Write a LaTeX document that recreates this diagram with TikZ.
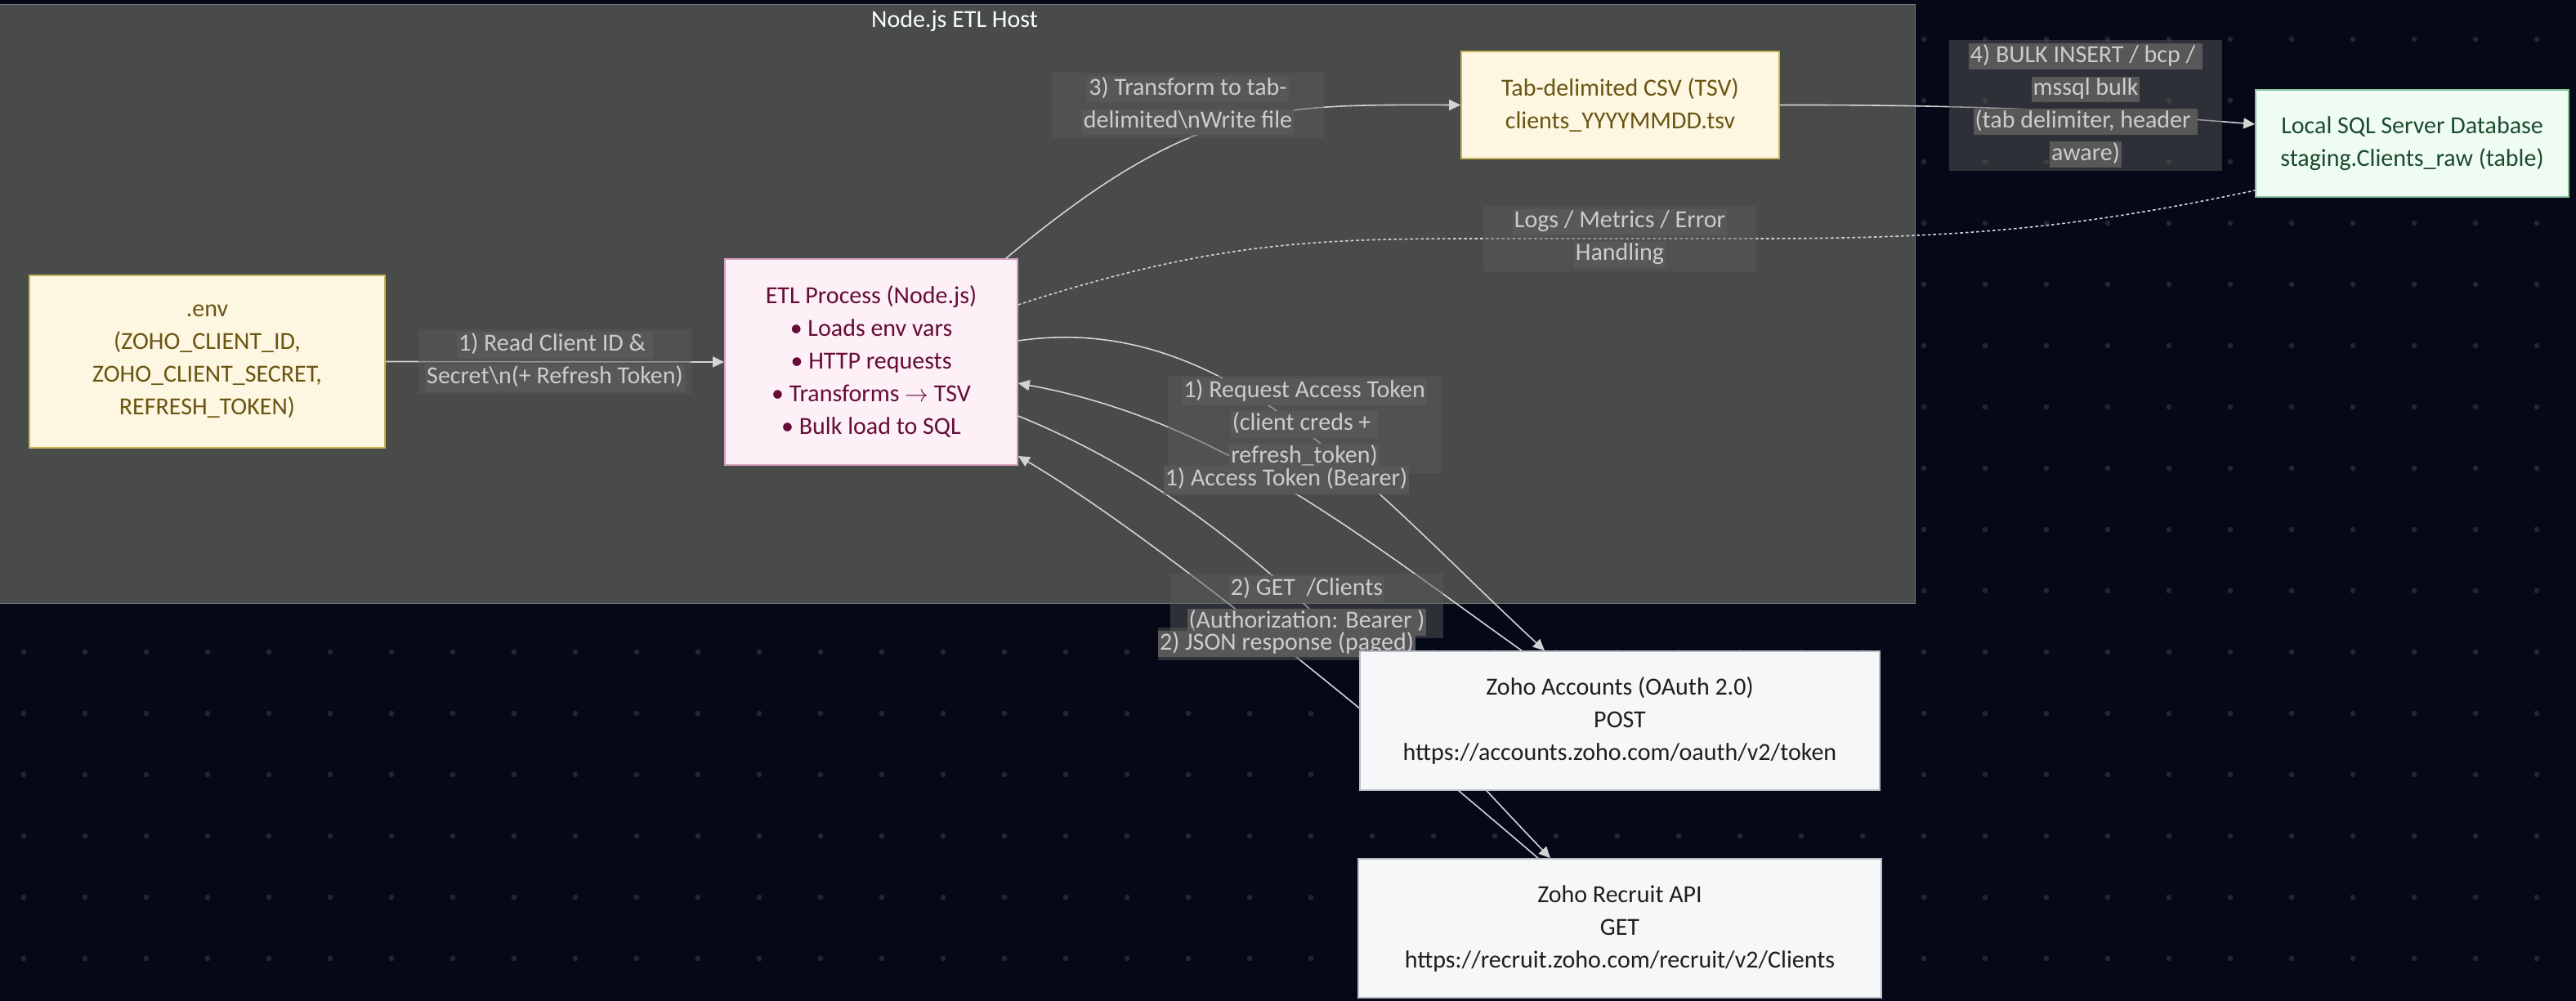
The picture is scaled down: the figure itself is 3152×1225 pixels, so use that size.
\documentclass[tikz,border=0pt]{standalone}
\usepackage{fontspec}
\setmainfont{Carlito}
\usetikzlibrary{arrows.meta,calc}
\definecolor{navy}{HTML}{050816}
\definecolor{dotgray}{HTML}{23262F}
\definecolor{clusterfill}{HTML}{494A4A}
\definecolor{clusterline}{HTML}{767777}
\definecolor{titlewhite}{HTML}{F9FFFE}
\definecolor{edgegray}{HTML}{D3D3D3}
\definecolor{labelgray}{HTML}{585858}
\definecolor{labeltext}{HTML}{CCCCCC}
\definecolor{creamfill}{HTML}{FDF7E2}
\definecolor{creamline}{HTML}{C8B455}
\definecolor{creamtext}{HTML}{6A5512}
\definecolor{pinkfill}{HTML}{FDF0F6}
\definecolor{pinkline}{HTML}{D9A2BF}
\definecolor{pinktext}{HTML}{660C38}
\definecolor{mintfill}{HTML}{EEFCF3}
\definecolor{mintline}{HTML}{86C29E}
\definecolor{minttext}{HTML}{1C4A2C}
\definecolor{cloudfill}{HTML}{F6F7F9}
\definecolor{cloudline}{HTML}{B8BCC4}
\definecolor{cloudtext}{HTML}{1E1E1E}
\pgfdeclarelayer{back}
\pgfdeclarelayer{edges}
\pgfsetlayers{back,edges,main}
\newcommand{\spanbox}[1]{{\setlength{\fboxsep}{1pt}\colorbox{labelgray}{\rule[-3.5pt]{0pt}{13.5pt}#1}}}
\begin{document}
\begin{tikzpicture}[x=0.5pt,y=-0.5pt,
every node/.style={font=\fontsize{15pt}{20pt}\selectfont, align=center, inner sep=0pt},
box/.style={rectangle, draw, line width=0.8pt},
cream/.style={box, fill=creamfill, draw=creamline, text=creamtext},
pink/.style={box, fill=pinkfill, draw=pinkline, text=pinktext},
mint/.style={box, fill=mintfill, draw=mintline, text=minttext},
cloud/.style={box, fill=cloudfill, draw=cloudline, text=cloudtext},
cluster/.style={rectangle, draw=clusterline, fill=clusterfill, line width=0.7pt},
elabel/.style={fill=labelgray, fill opacity=0.5, text opacity=1, text=labeltext},
flow/.style={draw=edgegray, line width=0.8pt, -{Triangle[length=7pt,width=6.5pt]}},
logline/.style={draw=edgegray, line width=0.8pt, dash pattern=on 1.8pt off 1.5pt}]
\useasboundingbox (0,0) rectangle (3152,1225);
\begin{pgfonlayer}{back}
\fill[navy] (0,0) rectangle (3152,1225);
\foreach \i in {0,...,41}
  \foreach \j in {0,...,15}
    \fill[dotgray] (29+75*\i,48+75*\j) circle (1.7pt);
\node[cluster, minimum width=1172pt, minimum height=366.5pt, anchor=north west]
  (host) at (-1,5) {};
\end{pgfonlayer}
\node[text=titlewhite] (hosttitle) at (1168,26) {Node.js ETL Host};
% edge labels
\node[elabel, minimum width=167pt, minimum height=39.5pt] (lread) at (679,442.5)
  {\spanbox{1) Read Client ID \& }\\\spanbox{Secret\textbackslash n(+ Refresh Token)}};
\node[elabel, minimum width=166.5pt, minimum height=40pt] (ltransform) at (1453.5,129)
  {\spanbox{3) Transform to tab-}\\\spanbox{delimited\textbackslash nWrite file}};
\node[elabel, minimum width=167pt, minimum height=40pt] (llogs) at (1982,292)
  {\spanbox{Logs / Metrics / Error}\\\spanbox{Handling}};
\node[elabel, minimum width=167pt, minimum height=80pt] (lbulk) at (2552,129)
  {\spanbox{4) BULK INSERT / bcp / }\\\spanbox{mssql bulk}\\
   \spanbox{(tab delimiter, header }\\\spanbox{aware)}};
\node[elabel, minimum width=167pt, minimum height=59.5pt] (lreq) at (1596,519.5)
  {\spanbox{1) Request Access Token}\\\spanbox{(client creds + }\\\spanbox{refresh\_token)}};
\node[elabel, minimum width=147pt, minimum height=18.5pt] (lacc) at (1574,587.5)
  {\spanbox{1) Access Token (Bearer)}};
\node[elabel, minimum width=167pt, minimum height=39.5pt] (lget) at (1599,741.5)
  {\spanbox{2) GET \ /Clients}\\\spanbox{(Authorization: Bearer )}};
\node[elabel, minimum width=152.5pt, minimum height=20pt] (ljson) at (1574.5,788)
  {\spanbox{2) JSON response (paged)}};
% nodes
\node[cream, minimum width=217.5pt, minimum height=105.5pt] (env) at (253.5,442.5)
  {.env\\(ZOHO\_CLIENT\_ID,\\ZOHO\_CLIENT\_SECRET,\\REFRESH\_TOKEN)};
\node[pink, minimum width=179pt, minimum height=126pt] (etl) at (1066,443)
  {ETL Process (Node.js)\\\textbullet\ Loads env vars\\\textbullet\ HTTP requests\\
   \textbullet\ Transforms $\rightarrow$ TSV\\\textbullet\ Bulk load to SQL};
\node[cream, minimum width=194.5pt, minimum height=65.5pt] (tsv) at (1982.5,128.5)
  {Tab-delimited CSV (TSV)\\clients\_YYYYMMDD.tsv};
\node[mint, minimum width=191.5pt, minimum height=65.5pt] (sql) at (2951.5,175.5)
  {Local SQL Server Database\\staging.Clients\_raw (table)};
\node[cloud, minimum width=318pt, minimum height=85pt] (accounts) at (1982,882)
  {Zoho Accounts (OAuth 2.0)\\POST\\https://accounts.zoho.com/oauth/v2/token};
\node[cloud, minimum width=320pt, minimum height=85pt] (recruit) at (1982,1136)
  {Zoho Recruit API\\GET\\https://recruit.zoho.com/recruit/v2/Clients};
% connectors
\begin{pgfonlayer}{edges}
\draw[flow] (env.east) -- (etl.west);
\draw[flow] ($(etl.north east)+(-15,0)$) .. controls (1461,124) and (1558,128) .. (tsv.west);
\draw[flow] (tsv.east) .. controls (2420,128) and (2560,136) .. ($(sql.west)+(0,-23.5)$);
\draw[logline] ($(etl.east)+(0,-70)$) .. controls (1483,295) and (1615,292) .. (llogs.west)
  -- (llogs.east) .. controls (2420,292) and (2560,275) .. ($(sql.west)+(0,57.5)$);
\draw[flow] ($(etl.east)+(0,-26)$) .. controls (1500,380) and (1671,593) .. ($(accounts.north)+(-92,0)$);
\draw[flow] ($(accounts.north)+(-120,0)$) .. controls (1659.5,652) and (1491,514) .. ($(etl.east)+(0,26)$);
\draw[flow] ($(etl.east)+(0,66)$) .. controls (1520,620) and (1690,834) .. ($(recruit.north)+(-85,0)$);
\draw[flow] ($(recruit.north)+(-100,0)$) .. controls (1692,887.5) and (1418,660) .. ($(etl.east)+(0,115)$);
\end{pgfonlayer}
\end{tikzpicture}
\end{document}
